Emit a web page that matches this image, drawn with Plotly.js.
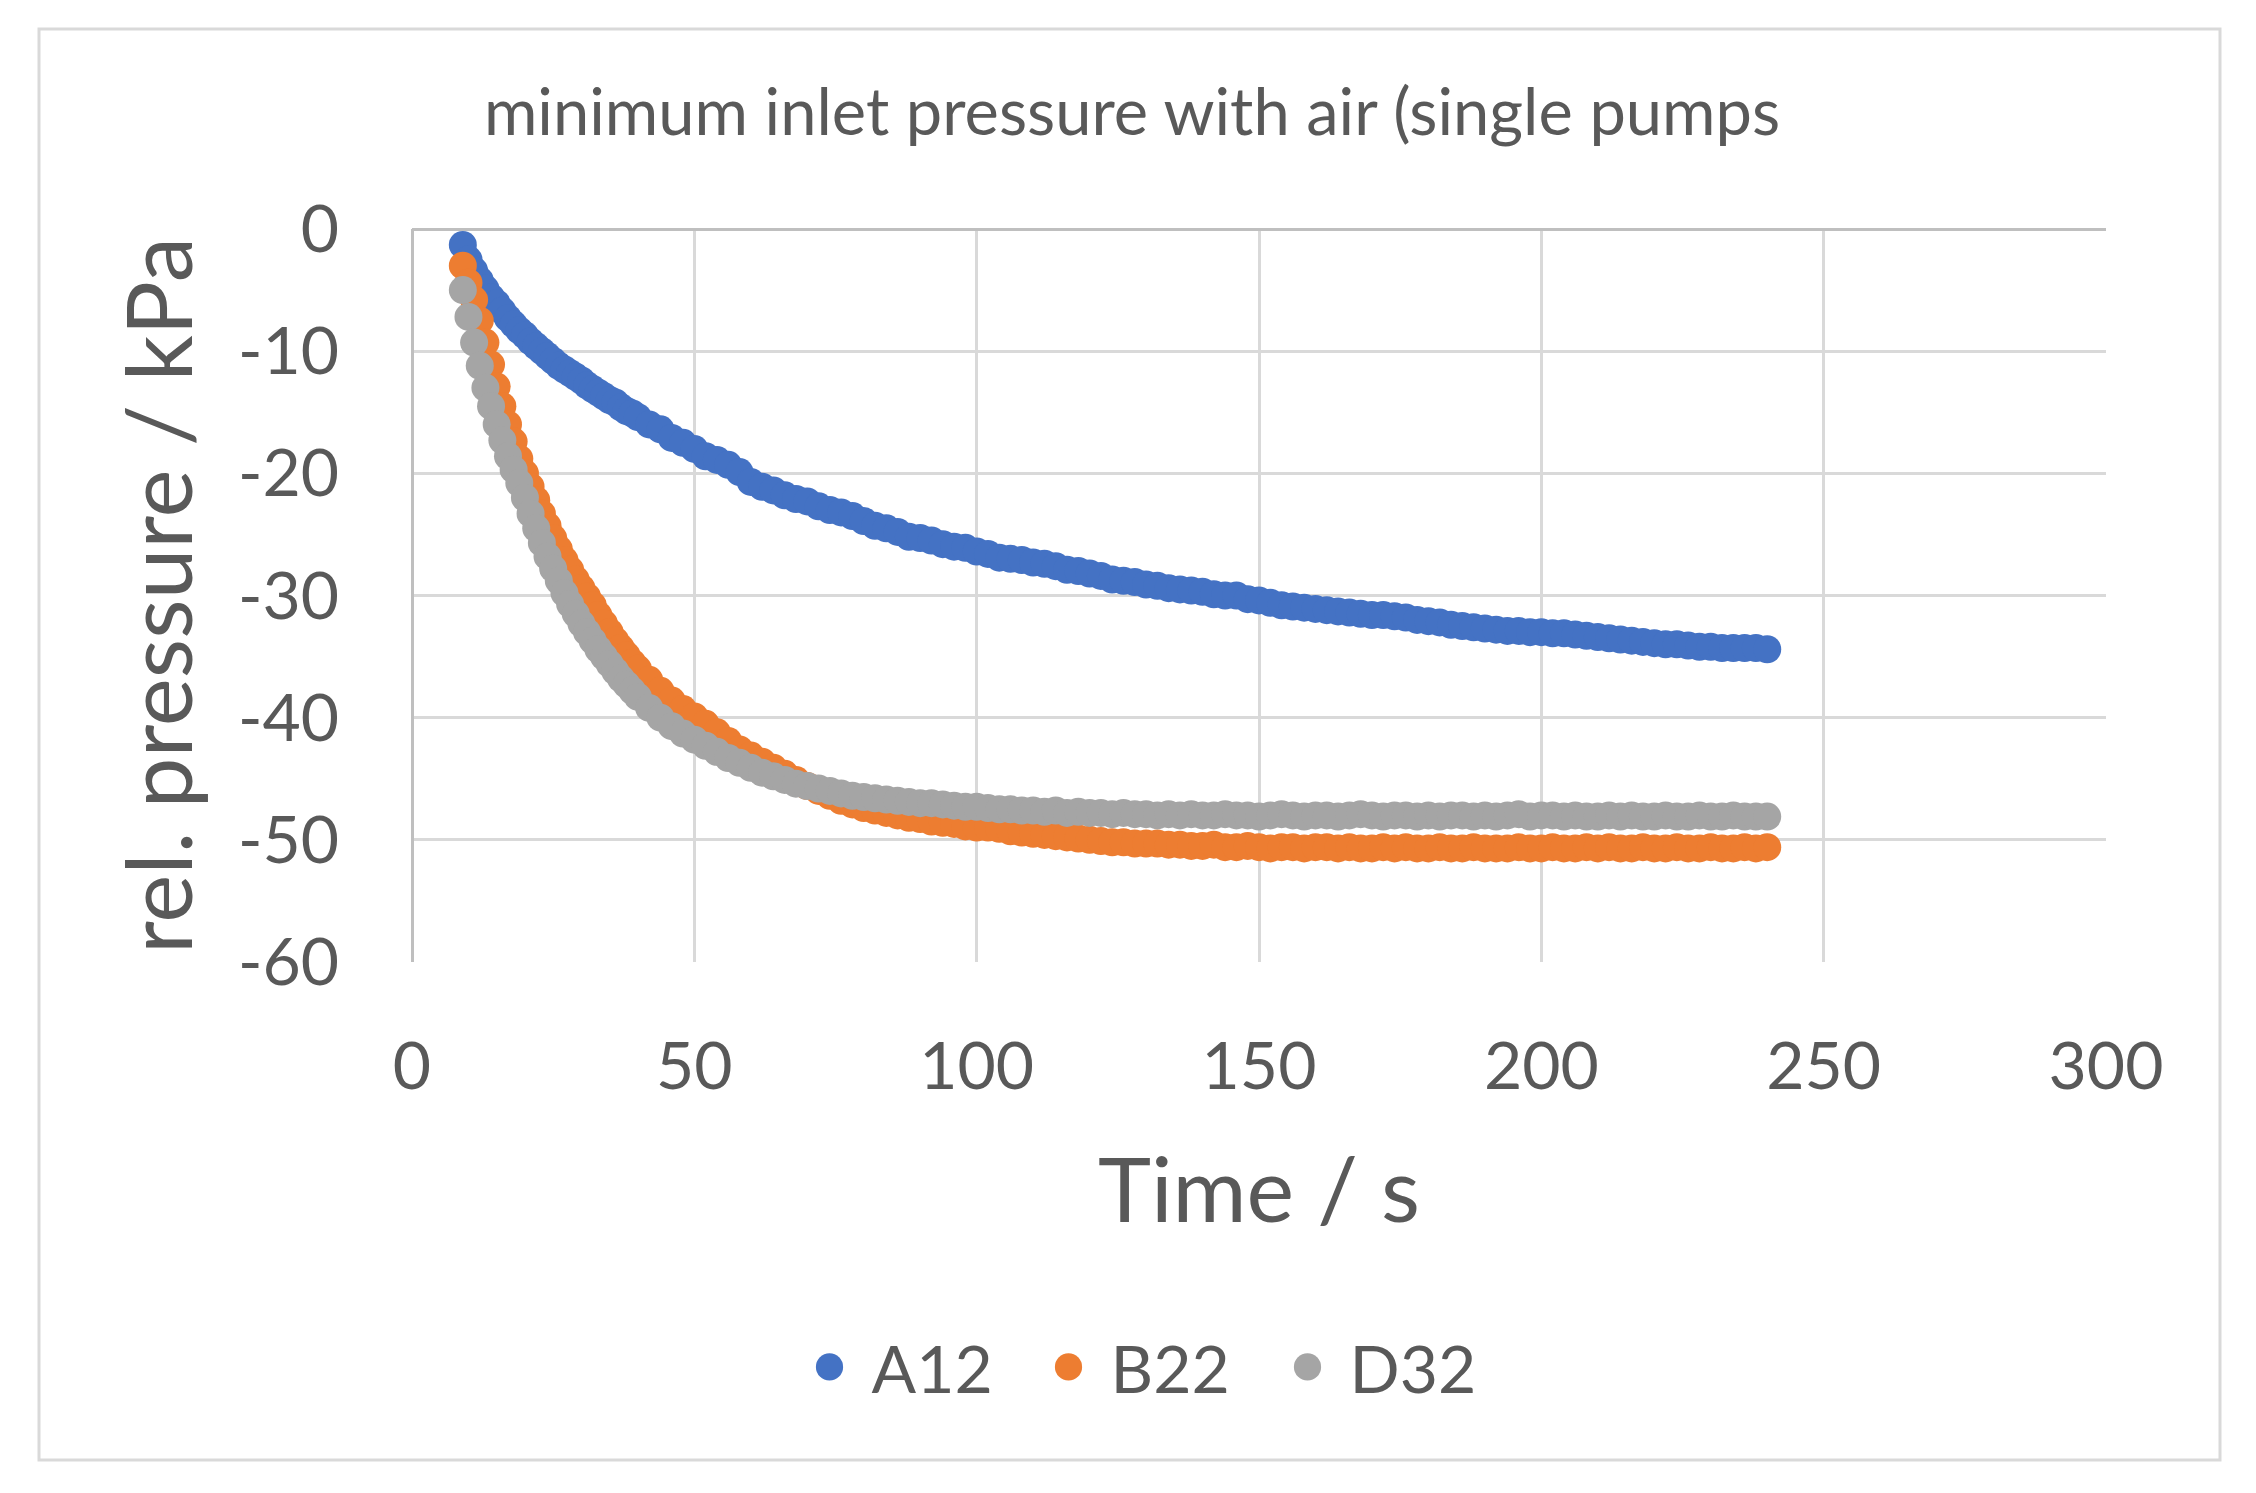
<!DOCTYPE html>
<html>
<head>
<meta charset="utf-8">
<script src="https://cdn.plot.ly/plotly-3.0.1.min.js"></script>
<style>
  html, body { margin: 0; padding: 0; background: #fff; }
  #chart { width: 2256px; height: 1493px; }
</style>
</head>
<body>
<div id="chart"></div>
<script>
// time axis shared by all three pumps (s)
const timeS = [
  9, 10, 11, 12, 13, 14, 15, 16, 17, 18, 19, 20,
  21, 22, 23, 24, 25, 26, 27, 28, 29, 30,
  31, 32, 33, 34, 35, 36, 37, 38, 39, 40,
  42, 44, 46, 48, 50, 52, 54, 56, 58, 60,
  62, 64, 66, 68, 70, 72, 74, 76, 78, 80,
  82, 84, 86, 88, 90, 92, 94, 96, 98, 100,
  102, 104, 106, 108, 110, 112, 114, 116, 118, 120,
  122, 124, 126, 128, 130, 132, 134, 136, 138, 140,
  142, 144, 146, 148, 150, 152, 154, 156, 158, 160,
  162, 164, 166, 168, 170, 172, 174, 176, 178, 180,
  182, 184, 186, 188, 190, 192, 194, 196, 198, 200,
  202, 204, 206, 208, 210, 212, 214, 216, 218, 220,
  222, 224, 226, 228, 230, 232, 234, 236, 238, 240
];

// rel. pressure (kPa)
const a12 = [
  -1.3, -2.5, -3.4, -4.2, -4.9, -5.6, -6.1, -6.7, -7.3, -7.8, -8.3, -8.7,
  -9.2, -9.6, -10.0, -10.4, -10.8, -11.2, -11.5, -11.8, -12.1, -12.4,
  -12.8, -13.1, -13.4, -13.7, -14.0, -14.2, -14.6, -14.9, -15.1, -15.4,
  -16.0, -16.4, -17.1, -17.5, -18.0, -18.6, -18.9, -19.3, -19.9, -20.7,
  -21.1, -21.4, -21.8, -22.1, -22.3, -22.7, -23.0, -23.2, -23.5, -23.9,
  -24.3, -24.5, -24.8, -25.2, -25.3, -25.5, -25.8, -26.0, -26.1, -26.4,
  -26.6, -26.9, -27.0, -27.1, -27.3, -27.4, -27.6, -27.9, -28.0, -28.2,
  -28.4, -28.7, -28.8, -28.9, -29.1, -29.2, -29.4, -29.5, -29.6, -29.7,
  -29.9, -30.0, -30.0, -30.3, -30.4, -30.6, -30.8, -30.9, -31.0, -31.1,
  -31.2, -31.3, -31.4, -31.5, -31.6, -31.6, -31.7, -31.8, -32.0, -32.1,
  -32.2, -32.4, -32.5, -32.6, -32.7, -32.8, -32.9, -32.9, -33.0, -33.0,
  -33.1, -33.1, -33.2, -33.3, -33.4, -33.5, -33.6, -33.7, -33.8, -33.9,
  -34.0, -34.0, -34.1, -34.2, -34.2, -34.3, -34.3, -34.3, -34.3, -34.4
];
const b22 = [
  -3.0, -4.4, -5.8, -7.5, -9.3, -11.1, -12.9, -14.5, -16.0, -17.4, -18.8, -20.0,
  -21.1, -22.2, -23.3, -24.3, -25.3, -26.2, -27.1, -27.9, -28.7, -29.4,
  -30.1, -30.8, -31.6, -32.3, -33.0, -33.7, -34.3, -34.9, -35.5, -36.0,
  -36.9, -37.8, -38.6, -39.3, -39.9, -40.5, -41.2, -41.9, -42.6, -43.1,
  -43.6, -44.1, -44.6, -45.1, -45.6, -46.0, -46.4, -46.8, -47.1, -47.4,
  -47.6, -47.8, -48.0, -48.2, -48.3, -48.5, -48.6, -48.7, -48.9, -49.0,
  -49.0, -49.1, -49.3, -49.4, -49.5, -49.6, -49.7, -49.8, -49.9, -50.0,
  -50.1, -50.2, -50.2, -50.3, -50.3, -50.3, -50.4, -50.4, -50.5, -50.5,
  -50.4, -50.6, -50.6, -50.5, -50.6, -50.7, -50.6, -50.6, -50.7, -50.6,
  -50.6, -50.7, -50.6, -50.7, -50.7, -50.6, -50.7, -50.6, -50.7, -50.7,
  -50.6, -50.7, -50.7, -50.6, -50.7, -50.7, -50.7, -50.6, -50.7, -50.7,
  -50.6, -50.7, -50.7, -50.6, -50.7, -50.6, -50.7, -50.7, -50.6, -50.7,
  -50.7, -50.6, -50.7, -50.7, -50.6, -50.7, -50.7, -50.6, -50.7, -50.6
];
const d32 = [
  -5.0, -7.2, -9.3, -11.2, -13.0, -14.5, -16.0, -17.3, -18.6, -19.7, -20.8, -22.0,
  -23.3, -24.5, -25.7, -26.8, -27.8, -28.8, -29.8, -30.7, -31.5, -32.3,
  -33.0, -33.7, -34.4, -35.0, -35.6, -36.2, -36.8, -37.3, -37.8, -38.3,
  -39.2, -40.0, -40.7, -41.3, -41.8, -42.3, -42.8, -43.3, -43.7, -44.1,
  -44.5, -44.8, -45.1, -45.4, -45.6, -45.8, -46.0, -46.2, -46.4, -46.5,
  -46.6, -46.7, -46.8, -46.9, -47.0, -47.0, -47.1, -47.2, -47.3, -47.3,
  -47.4, -47.5, -47.5, -47.6, -47.6, -47.7, -47.6, -47.8, -47.7, -47.8,
  -47.8, -47.9, -47.8, -47.9, -47.9, -48.0, -47.9, -48.0, -47.9, -48.0,
  -48.0, -47.9, -48.0, -48.0, -48.1, -48.0, -47.9, -48.0, -48.1, -48.0,
  -48.0, -48.1, -48.0, -47.9, -48.0, -48.1, -48.0, -48.0, -48.1, -48.0,
  -48.1, -48.0, -48.0, -48.1, -48.0, -48.1, -48.0, -47.9, -48.1, -48.0,
  -48.0, -48.1, -48.0, -48.1, -48.1, -48.0, -48.1, -48.0, -48.1, -48.1,
  -48.0, -48.1, -48.1, -48.0, -48.1, -48.1, -48.0, -48.1, -48.1, -48.1
];

const seriesNames = ['A12', 'B22', 'D32'];
const seriesColors = ['#4472C4', '#ED7D31', '#A5A5A5'];

const xTicks = [0, 50, 100, 150, 200, 250, 300];
const yTicks = [0, -10, -20, -30, -40, -50, -60];

// page geometry in px (Excel-like chart box)
const W = 2256, H = 1493;
const plot = { l: 412, r: 2106, t: 229, b: 962 };
const frame = { l: 39, r: 2220, t: 29, b: 1460 };
const toPaperX = p => (p - plot.l) / (plot.r - plot.l);
const toPaperY = p => (plot.b - p) / (plot.b - plot.t);

const FONT = 'Lato, "Open Sans", sans-serif';
const TEXT = '#595959';
const GRID = '#d9d9d9';
const AXIS = '#bfbfbf';

const traces = [a12, b22, d32].map((vals, i) => ({
  type: 'scatter', mode: 'markers',
  x: timeS, y: vals,
  name: seriesNames[i],
  marker: { color: seriesColors[i], size: 28, line: { width: 0 } },
  hoverinfo: 'skip'
}));

const layout = {
  width: W, height: H,
  paper_bgcolor: '#fff', plot_bgcolor: '#fff',
  font: { family: FONT, color: TEXT, size: 66 },
  margin: { l: plot.l, r: W - plot.r, t: plot.t, b: H - plot.b, pad: 0 },
  title: {
    text: 'minimum inlet pressure with air (single pumps',
    font: { family: FONT, color: TEXT, size: 65 },
    xref: 'container', x: 1132 / W, xanchor: 'center',
    yref: 'container', y: 1 - 112 / H, yanchor: 'middle'
  },
  xaxis: {
    range: [0, 300], tickvals: xTicks, ticktext: xTicks.map(String),
    showgrid: true, gridcolor: GRID, gridwidth: 3,
    zeroline: true, zerolinecolor: AXIS, zerolinewidth: 3,
    showline: false, ticks: '', ticklabelstandoff: 60,
    tickfont: { family: FONT, color: TEXT, size: 66 },
    title: { text: 'Time / s', font: { family: FONT, color: TEXT, size: 90 }, standoff: 56 },
    automargin: false
  },
  yaxis: {
    range: [-60, 0], tickvals: yTicks, ticktext: yTicks.map(String),
    showgrid: true, gridcolor: GRID, gridwidth: 3,
    zeroline: true, zerolinecolor: AXIS, zerolinewidth: 3,
    showline: false, ticks: '', ticklabelstandoff: 72,
    tickfont: { family: FONT, color: TEXT, size: 66 },
    title: { text: 'rel. pressure / kPa', font: { family: FONT, color: TEXT, size: 91 }, standoff: 15 },
    automargin: false
  },
  showlegend: true,
  legend: {
    orientation: 'h',
    xref: 'container', x: 1146 / W, xanchor: 'center',
    yref: 'container', y: 1 - 1367 / H, yanchor: 'middle',
    itemwidth: 74, entrywidth: 150,
    font: { family: FONT, color: TEXT, size: 66 },
    bgcolor: 'rgba(0,0,0,0)', itemclick: false, itemdoubleclick: false
  },
  shapes: [{
    type: 'rect', layer: 'below',
    xref: 'paper', yref: 'paper',
    x0: toPaperX(frame.l), x1: toPaperX(frame.r),
    y0: toPaperY(frame.b), y1: toPaperY(frame.t),
    line: { color: GRID, width: 3 }, fillcolor: 'rgba(0,0,0,0)'
  }]
};

const el = document.getElementById('chart');
Plotly.newPlot(el, traces, layout, { displayModeBar: false, staticPlot: true }).then(() => {
  // legend symbols are capped at 16px by plotly; enlarge to match the data markers
  el.querySelectorAll('.legend .legendpoints path.scatterpts').forEach(p => {
    const tr = p.getAttribute('transform') || '';
    p.setAttribute('transform', tr + ' scale(1.7)');
  });
});
</script>
</body>
</html>
